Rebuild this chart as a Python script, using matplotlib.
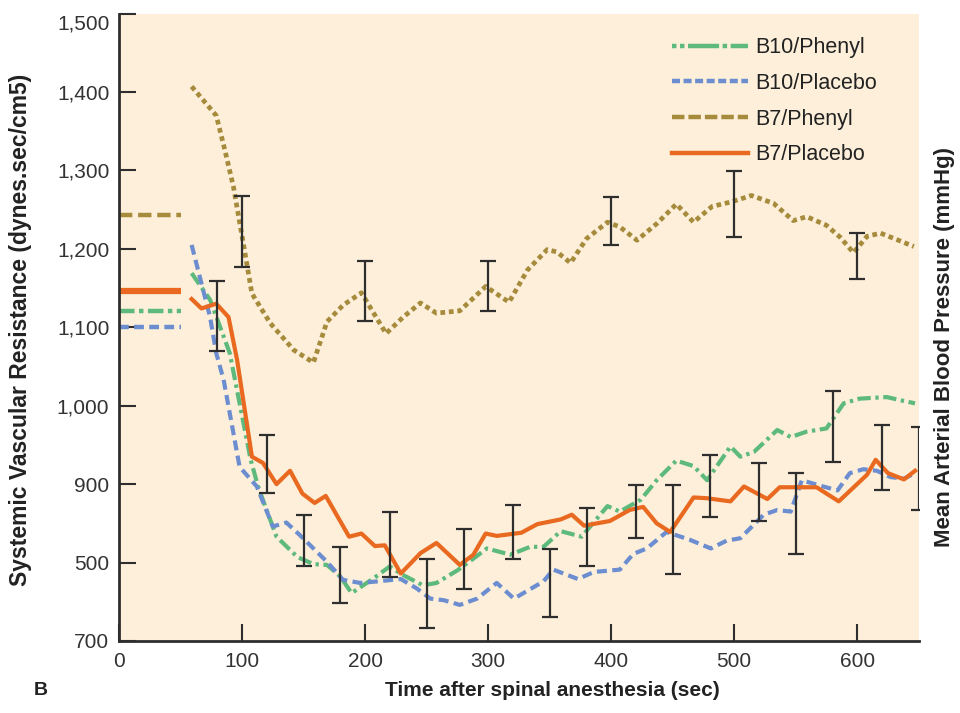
import matplotlib.pyplot as plt
from matplotlib.lines import Line2D
from matplotlib.transforms import ScaledTranslation

# colours
c_green = '#5dba7c'
c_blue = '#6c8ed0'
c_brown = '#a68b3c'
c_orange = '#e8691f'
bg = '#fdefd9'
ink = '#2e2e2e'

# baseline (pre-block) values, drawn from 0 to 50 s
base_t = [0, 50]
base_b10_ph = 1121
base_b10_pl = 1100
base_b7_ph = 1243
base_b7_pl = 1146

# B10/Phenyl
b10_ph_t = [59, 74, 90, 107, 113, 119, 128, 145, 158, 169, 180, 189, 207, 220, 231, 247, 258, 275, 288, 299,
            318, 334, 345, 359, 376, 397, 407, 424, 437, 453, 467, 478, 497, 505, 516, 535, 546, 559, 575, 589,
            602, 624, 635, 647]
b10_ph_v = [1169, 1135, 1067, 931, 897, 871, 833, 807, 798, 797, 782, 761, 780, 795, 784, 771, 774, 790, 805, 818,
            810, 820, 820, 840, 833, 872, 865, 880, 905, 930, 923, 905, 948, 935, 941, 969, 960, 967, 971, 1003,
            1009, 1011, 1007, 1003]

# B10/Placebo
b10_pl_t = [59, 74, 79, 85, 98, 112, 125, 136, 147, 169, 182, 196, 210, 229, 242, 253, 264, 277, 291, 307,
            321, 345, 353, 373, 386, 407, 418, 429, 445, 464, 481, 494, 505, 524, 535, 546, 555, 570, 584, 594,
            605, 616, 627, 638, 647]
b10_pl_v = [1205, 1113, 1067, 1033, 922, 897, 846, 851, 835, 801, 778, 774, 776, 779, 767, 754, 752, 746, 754, 774,
            754, 776, 791, 779, 788, 791, 811, 818, 839, 829, 818, 828, 831, 861, 867, 865, 905, 898, 892, 914,
            919, 917, 909, 907, 914]

# B7/Phenyl
b7_ph_t = [59, 79, 86, 93, 101, 108, 123, 142, 158, 169, 182, 197, 217, 231, 245, 258, 277, 298, 317, 332,
           348, 356, 367, 380, 397, 407, 421, 437, 453, 467, 482, 498, 514, 532, 548, 559, 575, 586, 597, 608,
           619, 635, 646]
b7_ph_v = [1407, 1370, 1326, 1279, 1207, 1143, 1105, 1071, 1055, 1107, 1128, 1144, 1092, 1113, 1131, 1118, 1121, 1152, 1132, 1173,
           1199, 1196, 1182, 1213, 1234, 1228, 1211, 1232, 1257, 1234, 1254, 1260, 1268, 1258, 1236, 1241, 1230, 1215, 1195, 1216,
           1220, 1210, 1203]

# B7/Placebo
b7_pl_t = [59, 67, 79, 89, 96, 108, 117, 128, 139, 149, 159, 168, 187, 197, 208, 216, 229, 245, 258, 277,
           288, 298, 307, 327, 340, 359, 368, 378, 399, 415, 426, 437, 448, 467, 478, 497, 508, 527, 537, 567,
           585, 608, 615, 625, 638, 647]
b7_pl_v = [1136, 1124, 1130, 1113, 1058, 935, 927, 900, 917, 888, 876, 885, 833, 837, 821, 822, 786, 812, 825, 797,
           810, 837, 834, 838, 849, 855, 861, 847, 853, 867, 871, 850, 839, 883, 882, 878, 897, 881, 896, 896,
           878, 912, 931, 914, 906, 917]

# error bars (low / high ends)
b7_err_t = [100, 200, 300, 400, 500, 600]
b7_err_lo = [1177, 1108, 1121, 1205, 1215, 1162]
b7_err_hi = [1268, 1185, 1185, 1266, 1299, 1220]

low_err_t = [80, 120, 150, 180, 220, 250, 280, 320, 350, 380, 420, 450, 480, 520, 550, 580, 620, 650]
low_err_lo = [1070, 889, 795, 749, 782, 716, 766, 805, 731, 795, 831, 785, 858, 853, 811, 928, 892, 867]
low_err_hi = [1159, 963, 861, 820, 864, 805, 843, 873, 817, 869, 899, 899, 937, 927, 914, 1019, 976, 973]

# axis labels as printed in the figure
x_ticks = [0, 100, 200, 300, 400, 500, 600]
y_ticks = [700, 800, 900, 1000, 1100, 1200, 1300, 1400, 1500]
y_labels = ['700', '500', '900', '1,000', '1,100', '1,200', '1,300', '1,400', '1,500']

plt.rcParams['font.family'] = ['Liberation Sans', 'DejaVu Sans']

fig = plt.figure(figsize=(9.6, 7.13), dpi=100)
ax = fig.add_axes([0.124, 0.101, 0.833, 0.880])
ax.set_facecolor(bg)

# baselines
ax.plot(base_t, [base_b7_ph] * 2, color=c_brown, lw=3.2, dashes=(3, 1.3), solid_capstyle='butt')
ax.plot(base_t, [base_b7_pl] * 2, color=c_orange, lw=4.5, solid_capstyle='butt')
ax.plot(base_t, [base_b10_ph] * 2, color=c_green, lw=3.2, dashes=(3.5, 1, 1, 1))
ax.plot(base_t, [base_b10_pl] * 2, color=c_blue, lw=3.2, dashes=(2.2, 1.2))

# time courses
ax.plot(b10_ph_t, b10_ph_v, color=c_green, lw=3, dashes=(3.2, 1.1, 0.8, 1.1))
ax.plot(b10_pl_t, b10_pl_v, color=c_blue, lw=3, dashes=(2.4, 1.3))
ax.plot(b7_ph_t, b7_ph_v, color=c_brown, lw=3.4, dashes=(1, 0.8))
ax.plot(b7_pl_t, b7_pl_v, color=c_orange, lw=3)

# error bars
for et, lo, hi in [(b7_err_t, b7_err_lo, b7_err_hi), (low_err_t, low_err_lo, low_err_hi)]:
    mid = [(a + b) / 2 for a, b in zip(lo, hi)]
    half = [(b - a) / 2 for a, b in zip(lo, hi)]
    ax.errorbar(et, mid, yerr=half, fmt='none', ecolor=ink, elinewidth=1.6,
                capsize=5.5, capthick=1.6, zorder=5)

ax.set_xlim(0, 650)
ax.set_ylim(700, 1500)
ax.set_xticks(x_ticks)
ax.set_yticks(y_ticks)
ax.set_yticklabels(y_labels)
ax.tick_params(direction='in', length=12, width=1.5, color=ink, labelcolor='#333333',
               labelsize=15)
ax.tick_params(axis='x', pad=8)
ax.tick_params(axis='y', pad=7)
# top label sits a little lower than its tick
top_lab = ax.get_yticklabels()[-1]
top_lab.set_transform(top_lab.get_transform() + ScaledTranslation(0, -6 / 72, fig.dpi_scale_trans))

for s in ['top', 'right']:
    ax.spines[s].set_visible(False)
for s in ['left', 'bottom']:
    ax.spines[s].set_linewidth(2)
    ax.spines[s].set_color(ink)

lab_kw = dict(fontweight='bold', color='#222222', ha='center', va='center')
fig.text(0.575, 0.032, 'Time after spinal anesthesia (sec)', fontsize=15, **lab_kw)
fig.text(0.021, 0.537, 'Systemic Vascular Resistance (dynes.sec/cm5)', rotation=90,
         fontsize=16.5, **lab_kw)
fig.text(0.984, 0.513, 'Mean Arterial Blood Pressure (mmHg)', rotation=90, fontsize=16, **lab_kw)
fig.text(0.042, 0.032, 'B', fontsize=14, **lab_kw)

handles = [
    Line2D([], [], color=c_green, lw=3.2, dashes=(1, 0.8, 1, 0.8, 6, 0)),
    Line2D([], [], color=c_blue, lw=3.2, dashes=(1.8, 0.8)),
    Line2D([], [], color=c_brown, lw=3.2, dashes=(2.8, 0.9)),
    Line2D([], [], color=c_orange, lw=3.2),
]
labels = ['B10/Phenyl', 'B10/Placebo', 'B7/Phenyl', 'B7/Placebo']
ax.legend(handles, labels, loc='upper left', bbox_to_anchor=(0.692, 0.962), frameon=False,
          fontsize=15.5, handlelength=3.5, handletextpad=0.35, labelspacing=0.68, borderpad=0,
          borderaxespad=0, labelcolor='#222222')

fig.savefig('out.png', dpi=100, facecolor='white')
